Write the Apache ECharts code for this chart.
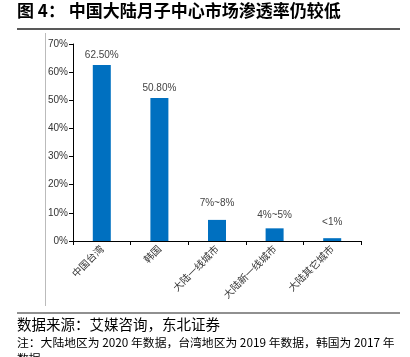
<!DOCTYPE html>
<html><head><meta charset="utf-8">
<script src="https://cdn.jsdelivr.net/npm/echarts@6/dist/echarts.min.js"></script>
<style>html,body{margin:0;padding:0;background:#fff}#c{width:410px;height:357px}</style>
</head><body><div id="c"></div>
<script>
var categories = ['中国台湾', '韩国', '大陆一线城市', '大陆新一线城市', '大陆其它城市'];
var values = [62.5, 50.8, 7.5, 4.5, 1];
var valueLabels = ['62.50%', '50.80%', '7%~8%', '4%~5%', '<1%'];
var yTicks = [0, 10, 20, 30, 40, 50, 60, 70];
var title = '图 4： 中国大陆月子中心市场渗透率仍较低';
var source = '数据来源：艾媒咨询，东北证券';
var note = '注：大陆地区为 2020 年数据，台湾地区为 2019 年数据，韩国为 2017 年';
var note2 = '数据';

var labelDist = [5, 5, 12, 8, 11];
var chart = echarts.init(document.getElementById('c'));
chart.setOption({
  animation: false,
  grid: {left: 73, right: 49, top: 44, bottom: 116},
  xAxis: {
    type: 'category', data: categories,
    axisLine: {lineStyle: {color: '#000', width: 1}},
    axisTick: {show: true, length: 4, lineStyle: {color: '#000'}},
    axisLabel: {rotate: 45, fontSize: 10, color: '#333', fontFamily: 'Noto Sans CJK SC', margin: 6}
  },
  yAxis: {
    type: 'value', min: yTicks[0], max: yTicks[yTicks.length - 1], interval: 10,
    axisLine: {show: true, lineStyle: {color: '#000', width: 1}},
    axisTick: {show: true, length: 4, lineStyle: {color: '#000'}},
    splitLine: {show: false},
    axisLabel: {formatter: '{value}%', fontSize: 10, color: '#333', fontFamily: 'Liberation Sans', margin: 5}
  },
  series: [{
    type: 'bar', barWidth: 18,
    itemStyle: {color: '#0070C0'},
    data: values.map(function (v, i) {
      return {value: v, label: {show: true, position: 'top', distance: labelDist[i], formatter: valueLabels[i],
        fontSize: 10, color: '#444', fontFamily: 'Liberation Sans'}};
    })
  }],
  graphic: [
    {type: 'text', left: 17, top: 2, style: {text: title, fontSize: 17, fontWeight: 'bold', fill: '#000', fontFamily: 'Noto Sans CJK SC'}},
    {type: 'line', shape: {x1: 17, y1: 29, x2: 400, y2: 29}, style: {stroke: '#222', lineWidth: 1.5}},
    {type: 'line', shape: {x1: 45.5, y1: 33, x2: 45.5, y2: 306}, style: {stroke: '#bbb', lineWidth: 1}},
    {type: 'line', shape: {x1: 17, y1: 313, x2: 400, y2: 313}, style: {stroke: '#222', lineWidth: 1.2}},
    {type: 'text', left: 17, top: 317, style: {text: source, fontSize: 14.5, fill: '#000', fontFamily: 'Noto Sans CJK SC'}},
    {type: 'text', left: 17, top: 337, style: {text: note, fontSize: 11.8, fill: '#000', fontFamily: 'Noto Sans CJK SC'}},
    {type: 'text', left: 17, top: 353, style: {text: note2, fontSize: 11.8, fill: '#000', fontFamily: 'Noto Sans CJK SC'}}
  ]
});
</script></body></html>
